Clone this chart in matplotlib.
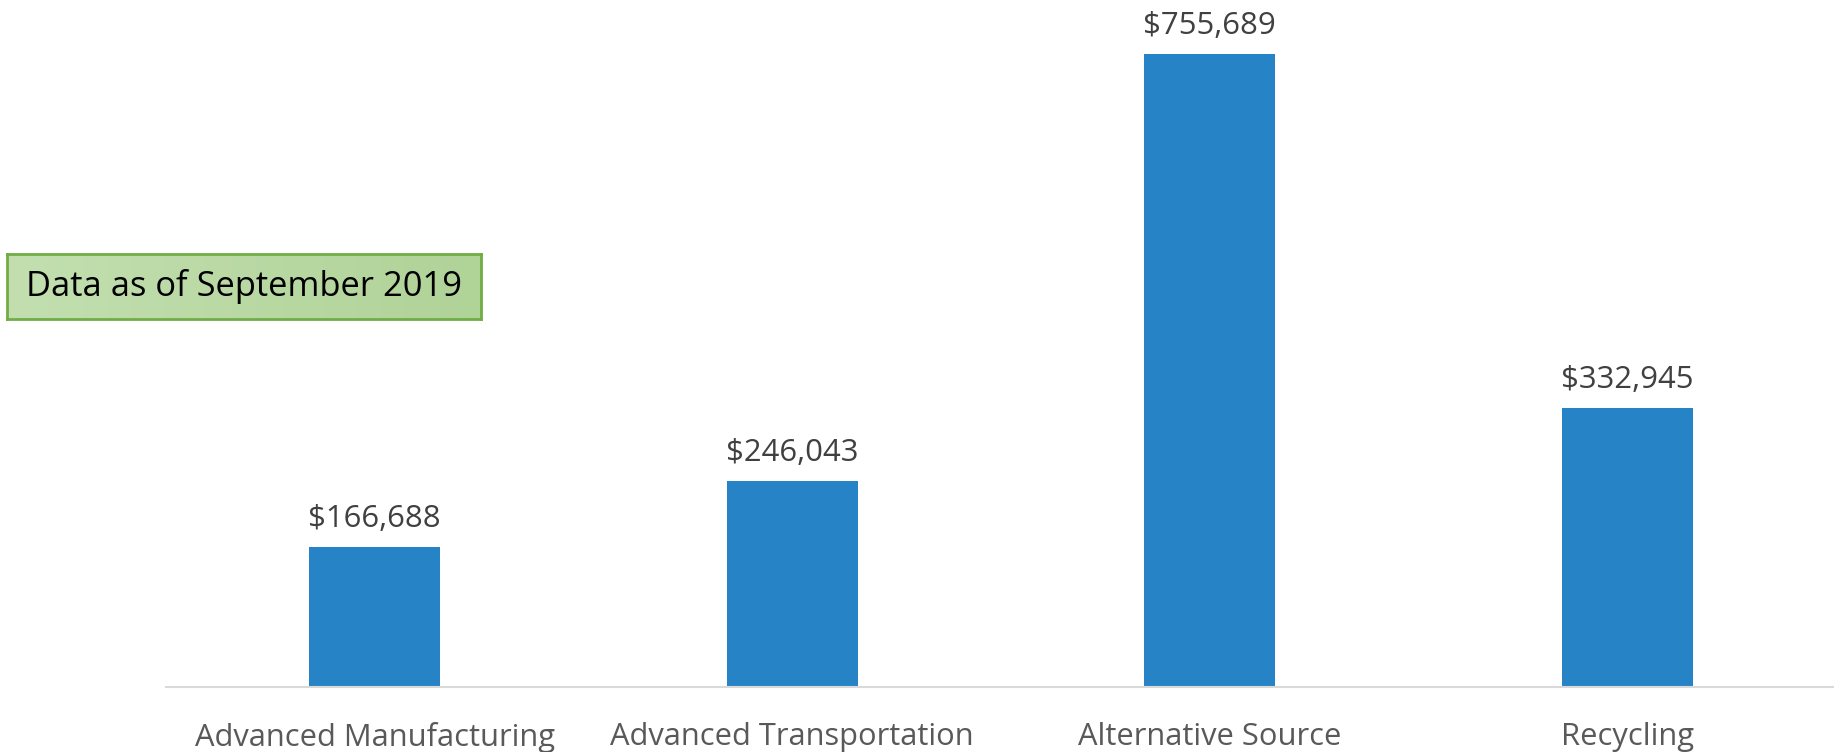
import matplotlib
matplotlib.use("Agg")
import matplotlib.pyplot as plt
import numpy as np
from matplotlib.colors import LinearSegmentedColormap

categories = ["Advanced Manufacturing", "Advanced Transportation", "Alternative Source", "Recycling"]
values = [166688, 246043, 755689, 332945]
note_text = "Data as of September 2019"

plt.rcParams['font.family'] = ['Open Sans', 'DejaVu Sans']

W, H = 1834, 752
fig = plt.figure(figsize=(W / 100, H / 100), dpi=100)

# main axes: x from 166 to 1836 px, zero line at y=687 px, top at 17 px
ax_left, ax_right = 166, 1836
ax_bottom_px, ax_top_px = 687, 17
ax = fig.add_axes([ax_left / W, (H - ax_bottom_px) / H,
                   (ax_right - ax_left) / W, (ax_bottom_px - ax_top_px) / H])
x = np.arange(len(categories))
bars = ax.bar(x, values, width=0.314, color="#2683C6", zorder=2)
ax.set_xlim(-0.5, len(categories) - 0.5)
ax.set_ylim(0, 800000)
for s in ["top", "right", "left"]:
    ax.spines[s].set_visible(False)
ax.spines["bottom"].set_color("#D9D9D9")
ax.spines["bottom"].set_linewidth(1.5)
ax.set_yticks([])
ax.set_xticks(x)
ax.set_xticklabels(categories, fontsize=22.2, color="#595959")
ax.tick_params(axis="x", length=0, pad=25)
for xi, v in zip(x, values):
    ax.annotate(f"${v:,}", (xi, v), xytext=(0, 9.5), textcoords="offset points",
                ha="center", va="bottom", fontsize=22.4, color="#404040")

# note box with gradient fill
bx0, bx1, by0, by1 = 7, 481, 254, 319
bax = fig.add_axes([bx0 / W, (H - by1) / H, (bx1 - bx0) / W, (by1 - by0) / H])
cmap = LinearSegmentedColormap.from_list("g", ["#C3DFB0", "#B0D398"])
grad = np.linspace(0, 1, 256).reshape(1, -1)
bax.imshow(grad, aspect="auto", cmap=cmap, extent=[0, 1, 0, 1])
bax.set_xlim(0, 1)
bax.set_ylim(0, 1)
bax.set_xticks([])
bax.set_yticks([])
for s in bax.spines.values():
    s.set_color("#70AD47")
    s.set_linewidth(2)
bax.text(0.5, 0.5, note_text, ha="center", va="center", fontsize=24.8, color="#000000")

fig.savefig("out.png", dpi=100)
